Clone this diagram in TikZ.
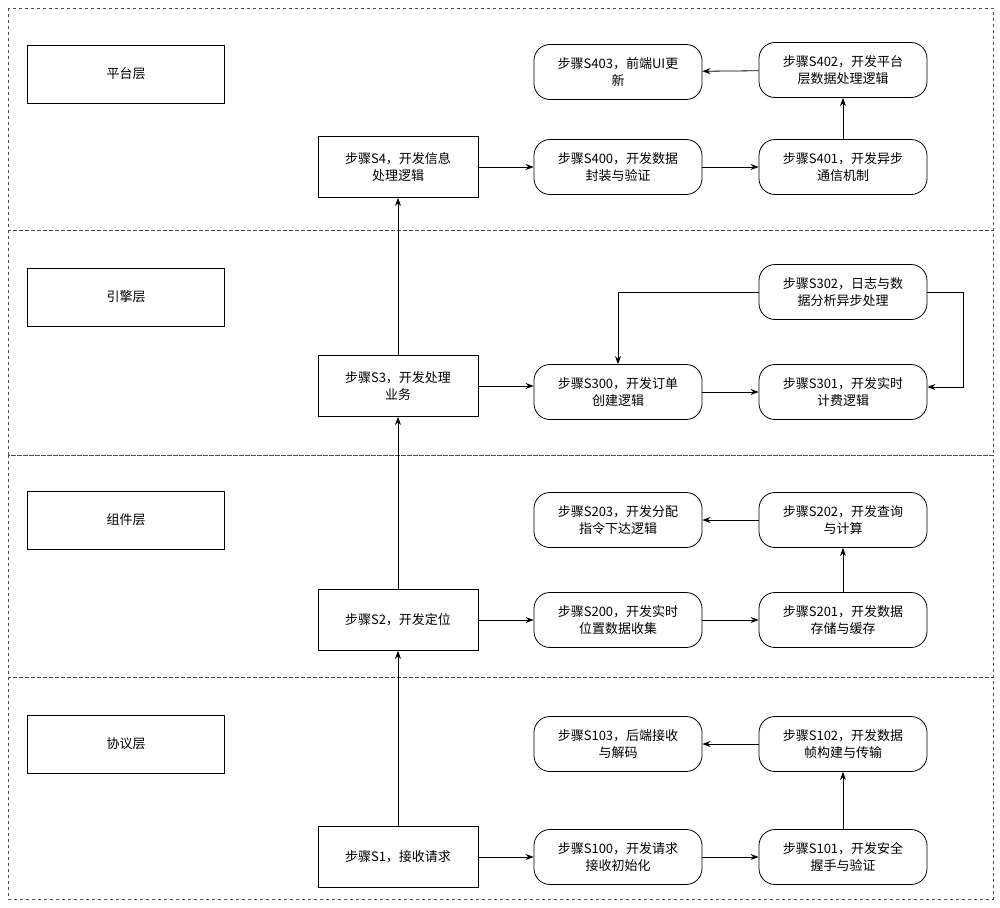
\documentclass[tikz,border=0pt]{standalone}
\usepackage{fontspec}
\setmainfont{Noto Sans CJK SC}
\usetikzlibrary{arrows.meta}
\begin{document}
\begin{tikzpicture}[x=1pt,y=-1pt,
 lay/.style={draw=black!70,dashed,line width=0.8pt},
 lab/.style={draw,line width=0.8pt,minimum width=197pt,minimum height=58pt,font=\fontsize{13}{16}\selectfont},
 main/.style={draw,line width=0.8pt,minimum width=160pt,minimum height=61pt,align=center,font=\fontsize{13}{17}\selectfont},
 st/.style={draw,rounded corners=16pt,line width=0.8pt,minimum width=168pt,minimum height=55pt,align=center,font=\fontsize{13}{17}\selectfont},
 ar/.style={-{Stealth[length=8pt,width=6pt]},line width=0.8pt}]
\useasboundingbox (0,0) rectangle (1000,907);
\fill[white] (0,0) rectangle (1000,907);
\draw[lay] (8,8) rectangle (993,230);
\draw[lay] (8,230) rectangle (993,455);
\draw[lay] (8,455) rectangle (993,677);
\draw[lay] (8,677) rectangle (993,899);
\node[lab] (L4) at (126,74) {平台层};
\node[lab] (L3) at (126,297) {引擎层};
\node[lab] (L2) at (126,520) {组件层};
\node[lab] (L1) at (126,744) {协议层};
\node[main] (S4) at (398,167) {步骤S4，开发信息\\处理逻辑};
\node[main] (S3) at (398,386) {步骤S3，开发处理\\业务};
\node[main] (S2) at (398,620) {步骤S2，开发定位};
\node[main] (S1) at (398,857) {步骤S1，接收请求};
\node[st] (S403) at (618,72) {步骤S403，前端UI更\\新};
\node[st] (S402) at (843,70) {步骤S402，开发平台\\层数据处理逻辑};
\node[st] (S400) at (618,167) {步骤S400，开发数据\\封装与验证};
\node[st] (S401) at (843,167) {步骤S401，开发异步\\通信机制};
\node[st] (S302) at (843,292) {步骤S302，日志与数\\据分析异步处理};
\node[st] (S300) at (618,392) {步骤S300，开发订单\\创建逻辑};
\node[st] (S301) at (843,392) {步骤S301，开发实时\\计费逻辑};
\node[st] (S203) at (618,520) {步骤S203，开发分配\\指令下达逻辑};
\node[st] (S202) at (843,520) {步骤S202，开发查询\\与计算};
\node[st] (S200) at (618,620) {步骤S200，开发实时\\位置数据收集};
\node[st] (S201) at (843,620) {步骤S201，开发数据\\存储与缓存};
\node[st] (S103) at (618,744) {步骤S103，后端接收\\与解码};
\node[st] (S102) at (843,744) {步骤S102，开发数据\\帧构建与传输};
\node[st] (S100) at (618,857) {步骤S100，开发请求\\接收初始化};
\node[st] (S101) at (843,857) {步骤S101，开发安全\\握手与验证};
\draw[ar] (S1) -- (S2); \draw[ar] (S2) -- (S3); \draw[ar] (S3) -- (S4);
\draw[ar] (S1) -- (S100); \draw[ar] (S100) -- (S101); \draw[ar] (S101) -- (S102); \draw[ar] (S102) -- (S103);
\draw[ar] (S2) -- (S200); \draw[ar] (S200) -- (S201); \draw[ar] (S201) -- (S202); \draw[ar] (S202) -- (S203);
\draw[ar] (S3.east) -- (S300.west|-S3.east); \draw[ar] (S300) -- (S301);
\draw[ar] (S302.west) -| (S300.north);
\draw[ar] (S302.east) -- (963,292) |- ([yshift=5pt]S301.east);
\draw[ar] (S4) -- (S400); \draw[ar] (S400) -- (S401); \draw[ar] (S401) -- (S402); \draw[ar] (S402) -- (S403);
\end{tikzpicture}
\end{document}
